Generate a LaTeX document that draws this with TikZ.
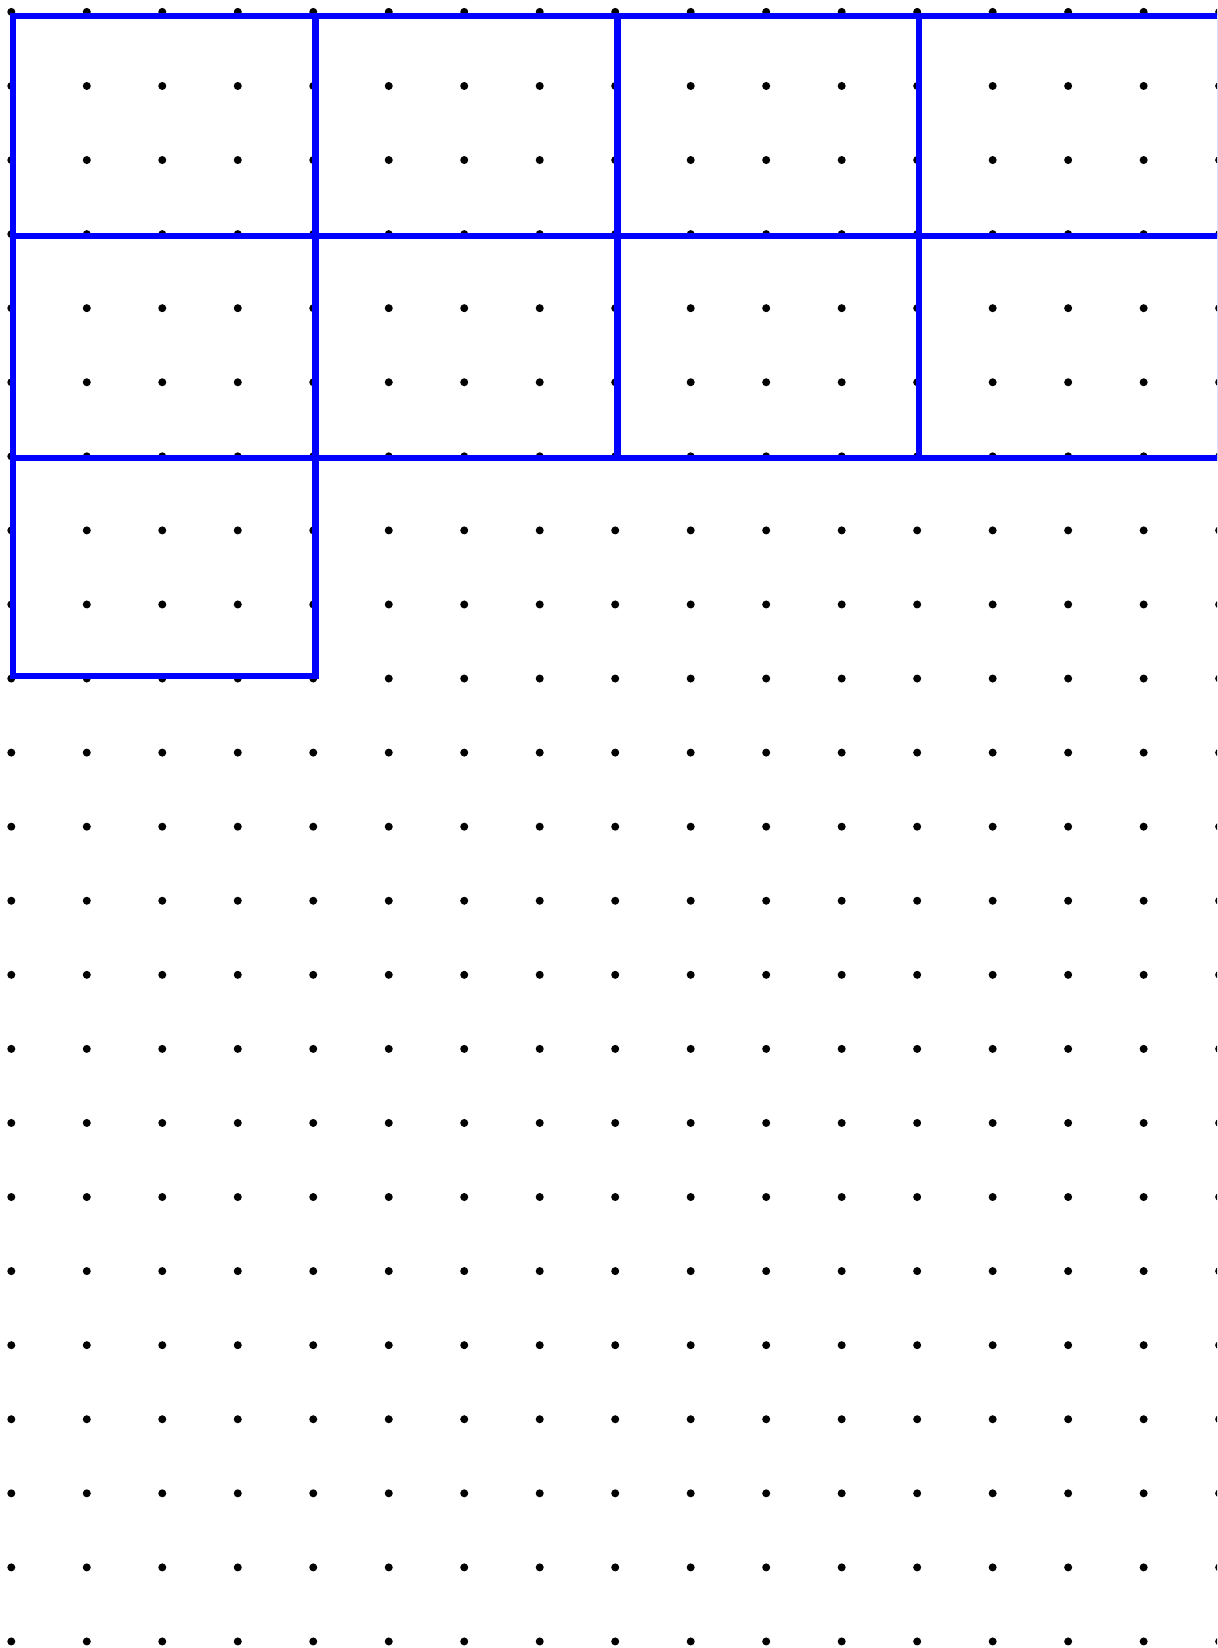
\documentclass[tikz,border=0pt]{standalone}
\usepackage{tikz}
\begin{document}
\begin{tikzpicture}[x=0.01cm,y=-0.01cm,
  dotmark/.style={fill=black},
  bluebox/.style={draw={rgb,255:red,0;green,0;blue,255},line width=0.063cm,line join=miter}]
\useasboundingbox (0,0) rectangle (1217,1648);
\clip (0,0) rectangle (1217,1648);
\fill[white] (0,0) rectangle (1217,1648);
% dot grid
\foreach \i in {0,...,16}{
  \foreach \j in {0,...,22}{
    \fill[dotmark] ({11.3+75.49*\i},{11.9+74.07*\j}) circle (0.04cm);
  }
}
% blue rectangles
\def\xa{13.3}\def\xb{315.5}\def\xc{617.5}\def\xd{919.3}\def\xe{1220.5}
\def\ya{16.3}\def\yb{236.2}\def\yc{458.3}\def\yd{676.3}
\draw[bluebox] (\xa,\ya) rectangle (\xb,\yb);
\draw[bluebox] (\xb,\ya) rectangle (\xc,\yb);
\draw[bluebox] (\xc,\ya) rectangle (\xd,\yb);
\draw[bluebox] (\xd,\ya) rectangle (\xe,\yb);
\draw[bluebox] (\xa,\yb) rectangle (\xb,\yc);
\draw[bluebox] (\xb,\yb) rectangle (\xc,\yc);
\draw[bluebox] (\xc,\yb) rectangle (\xd,\yc);
\draw[bluebox] (\xd,\yb) rectangle (\xe,\yc);
\draw[bluebox] (\xa,\yc) rectangle (\xb,\yd);
\end{tikzpicture}
\end{document}
